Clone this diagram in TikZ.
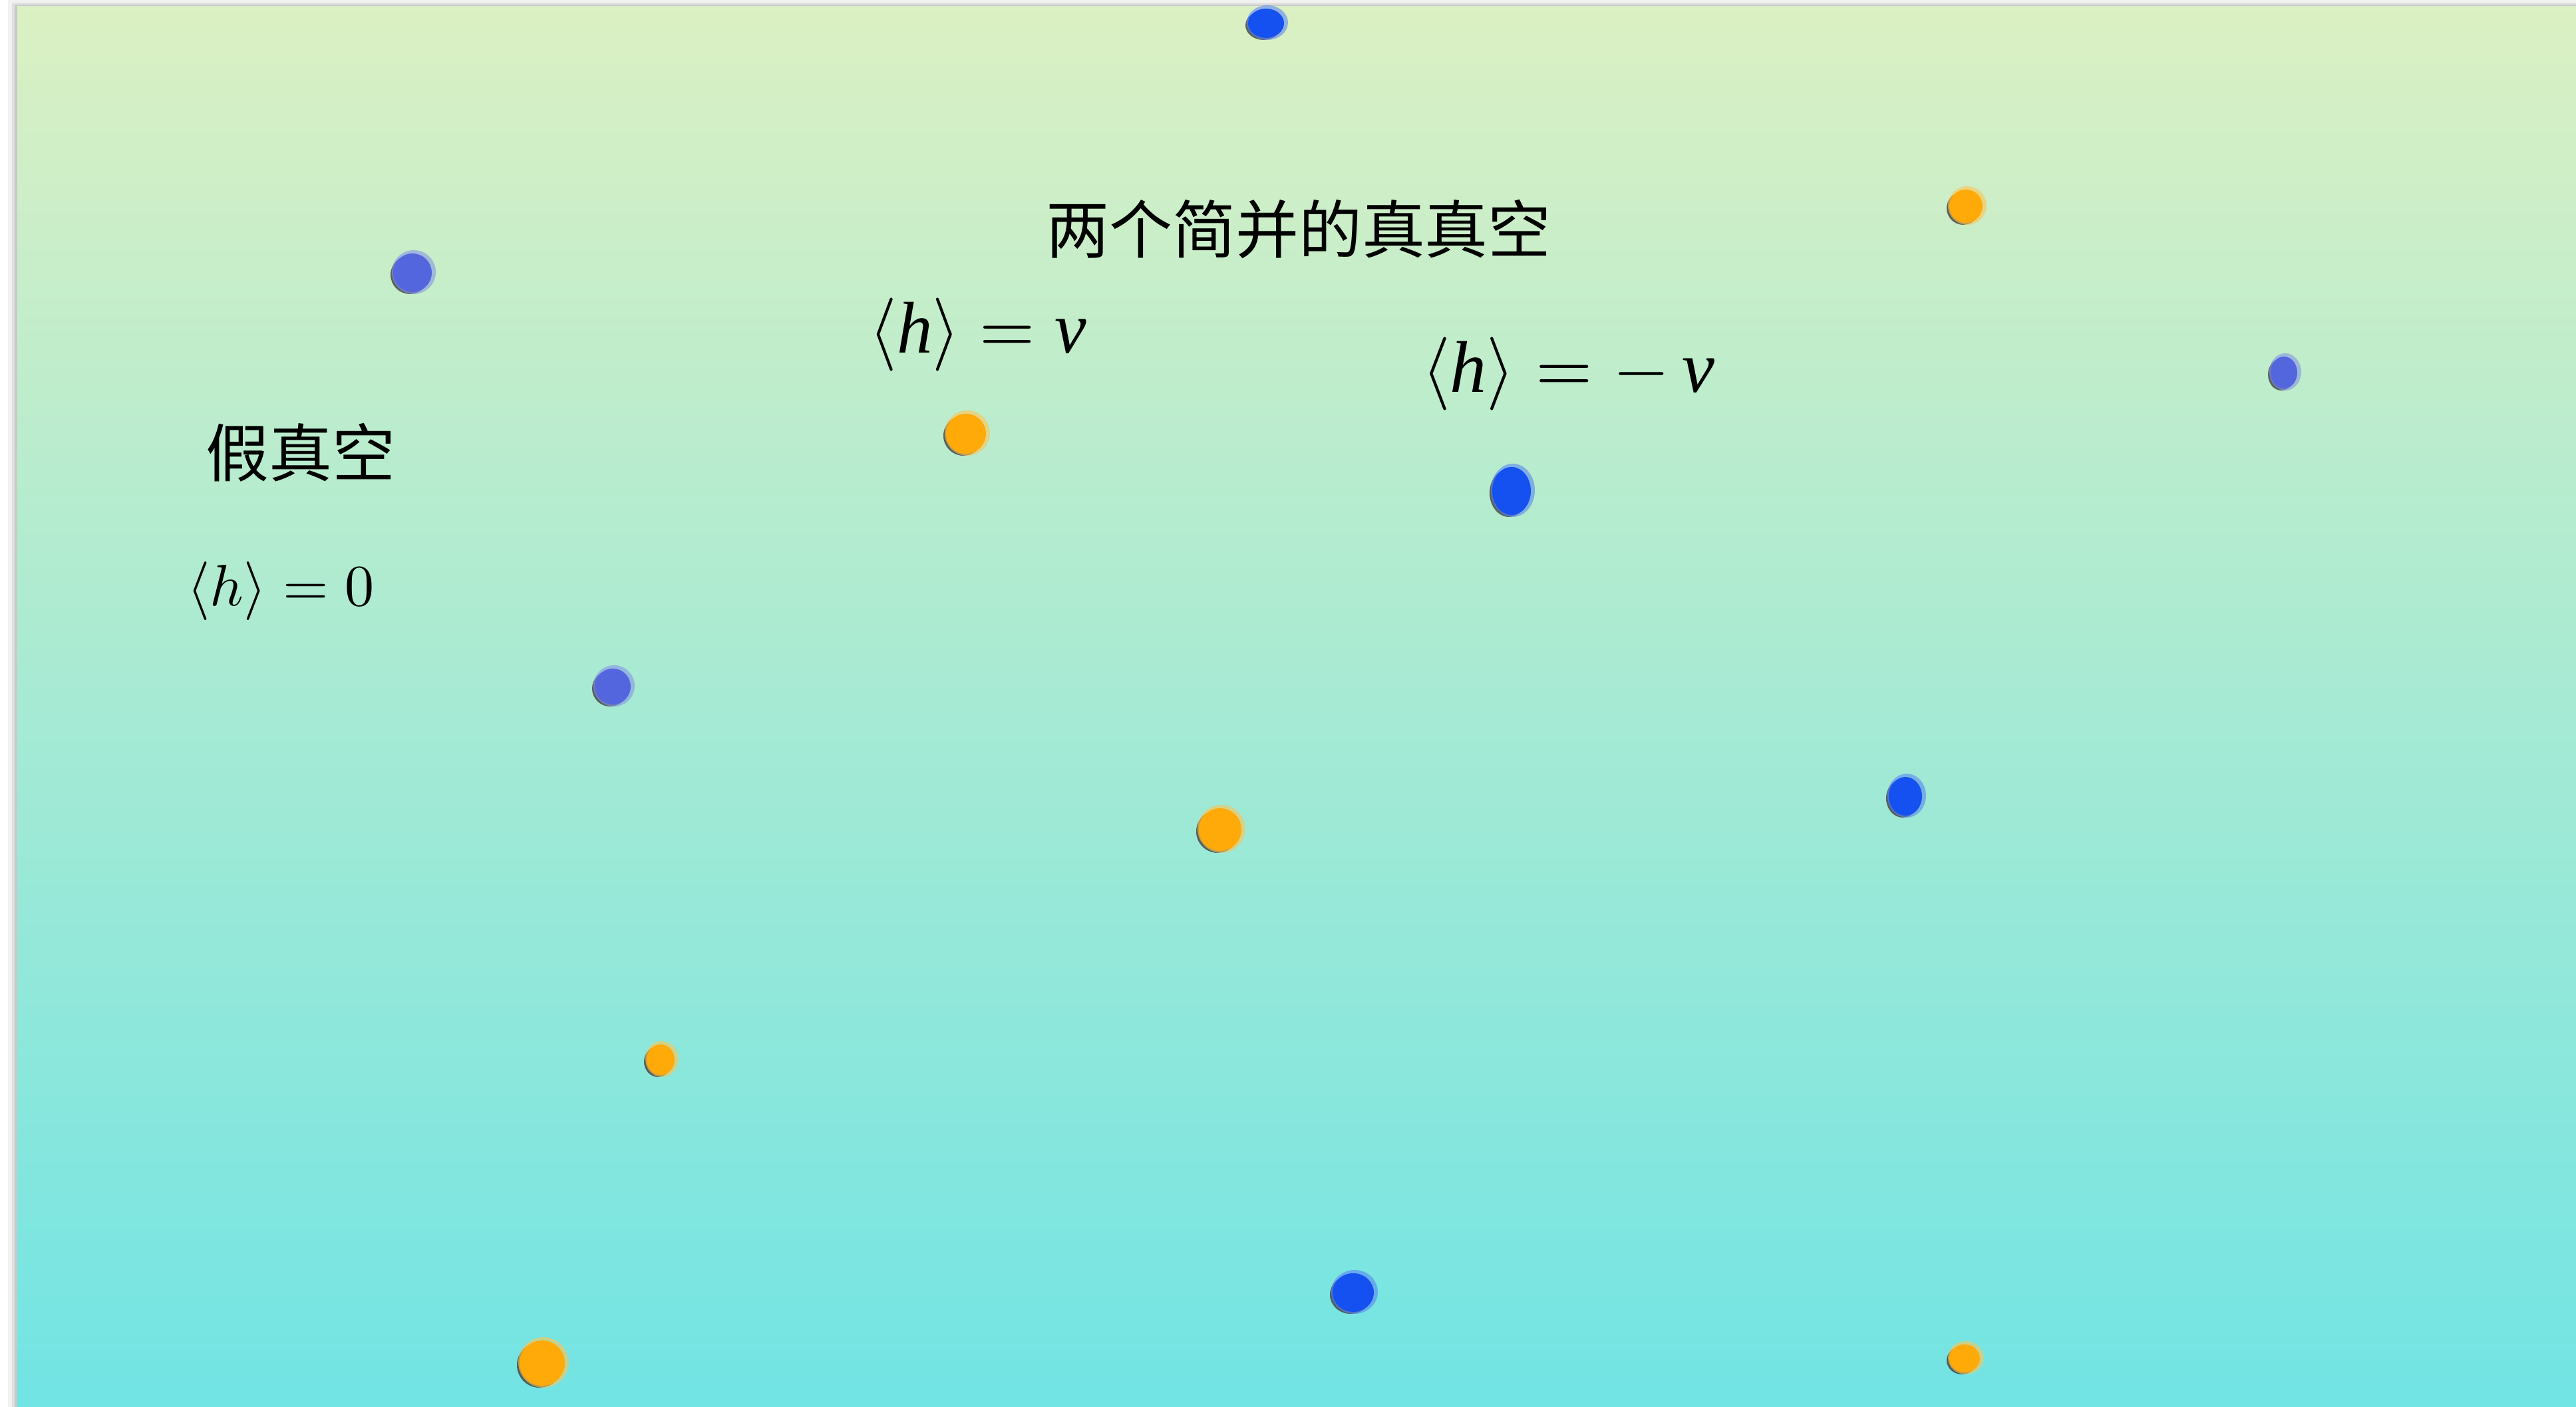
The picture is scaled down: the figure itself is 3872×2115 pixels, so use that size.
\documentclass[tikz,border=0pt]{standalone}
\usepackage{graphicx}
\usepackage{fontspec}
\newfontfamily\cjk{Noto Sans CJK SC}
\newfontfamily\tms{Liberation Serif}
\newcommand{\ti}[1]{\mbox{\tms\itshape #1}}
\definecolor{topc}{HTML}{DBF0C3}
\definecolor{botc}{HTML}{71E4E4}
\definecolor{dotblue}{HTML}{1550F0}
\definecolor{dotpurple}{HTML}{5466DE}
\definecolor{dotorange}{HTML}{FFAA08}
\tikzset{
  cjklabel/.style={inner sep=0pt, font={\cjk\fontsize{9.5}{11}\selectfont}},
  mathlabel/.style={inner sep=0pt},
  dotshadow/.style={fill=black!75, opacity=0.8},
}
\newcommand{\blob}[5]{%
  \fill[dotshadow] (#1-4,#2+3) ellipse [x radius=#3, y radius=#4];
  \fill[#5!70!white, opacity=0.6] (#1+2,#2-1) ellipse [x radius=#3+4, y radius=#4+4];
  \fill[#5] (#1,#2) ellipse [x radius=#3, y radius=#4];
}
\begin{document}
\begin{tikzpicture}[x=0.1pt, y=-0.1pt]
\useasboundingbox (0,0) rectangle (3872,2115);
\fill[white] (0,0) rectangle (3872,2115);
% panel shadow
\fill[black, opacity=0.05] (12,0) rectangle (3872,2115);
\fill[black, opacity=0.07] (18,4) rectangle (3872,2115);
\fill[black, opacity=0.10] (22,7) rectangle (3872,2115);
% panel
\shade[top color=topc, bottom color=botc] (26,10) rectangle (3872,2115);
% dots
\blob{1903}{35}{27}{22}{dotblue}
\blob{2955}{310}{25}{25}{dotorange}
\blob{620}{410}{29}{29}{dotpurple}
\blob{3433}{560}{20}{24}{dotpurple}
\blob{1452}{652}{30}{30}{dotorange}
\blob{2272}{738}{29}{36}{dotblue}
\blob{921}{1032}{27}{27}{dotpurple}
\blob{1834}{1247}{32}{32}{dotorange}
\blob{2864}{1197}{25}{29}{dotblue}
\blob{993}{1593}{21}{23}{dotorange}
\blob{2034}{1943}{31}{29}{dotblue}
\blob{815}{2049}{34}{34}{dotorange}
\blob{2953}{2042}{23}{21}{dotorange}
% texts
\node[cjklabel] (title) at (1952,344) {两个简并的真真空};
\node[mathlabel] (hv) at (1470,503) {\scalebox{1.07}[1.1]{$\langle\ti{h}\rangle = \ti{v}$}};
\node[mathlabel] (hmv) at (2357,562) {\scalebox{1.1}[1.1]{$\langle\ti{h}\rangle = -\,\ti{v}$}};
\node[cjklabel] (fv) at (452,680) {假真空};
\node[mathlabel] (h0) at (422,889) {\scalebox{0.88}{$\langle h\rangle = 0$}};
\end{tikzpicture}
\end{document}
